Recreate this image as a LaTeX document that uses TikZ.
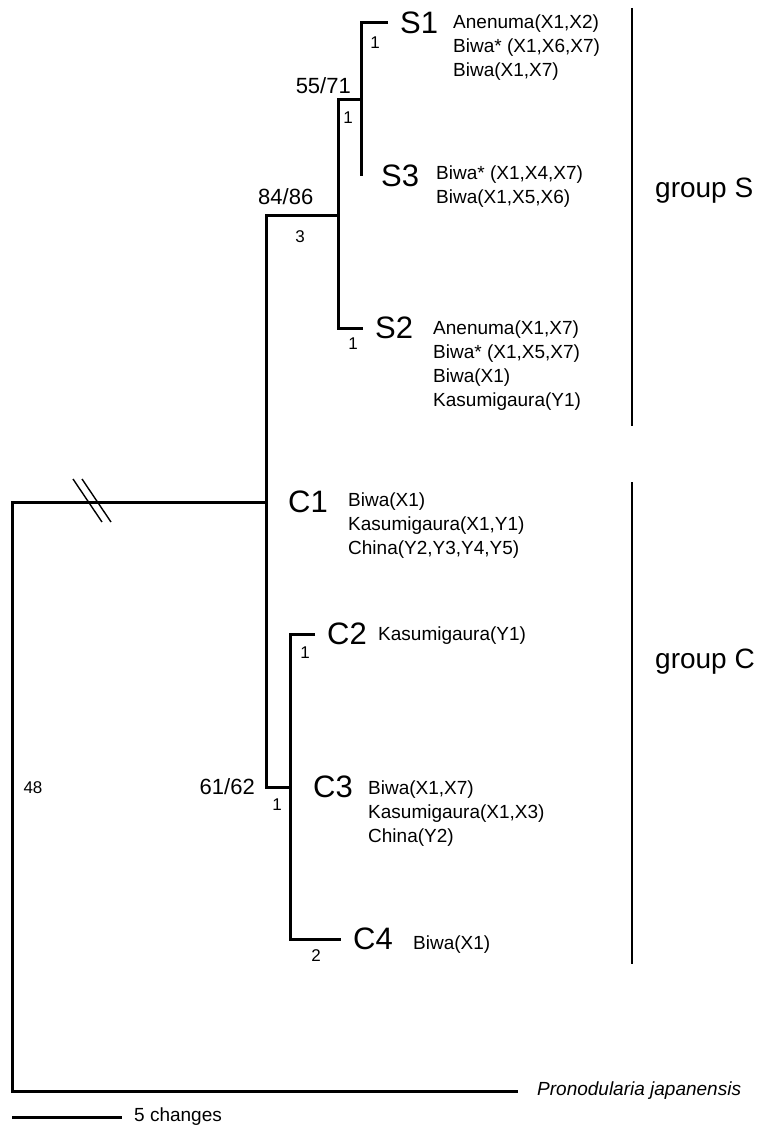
\documentclass[tikz,border=0pt]{standalone}
\usepackage{fontspec}
\setmainfont{Liberation Sans}
\usetikzlibrary{positioning}

\tikzset{
  br/.style={line width=3pt},
  grpbar/.style={line width=2pt},
  hashmark/.style={line width=1.4pt},
  tip/.style={font=\fontsize{31}{31}\selectfont, anchor=west, inner xsep=12pt, inner ysep=0pt},
  info/.style={font=\fontsize{19}{24}\selectfont, align=left, anchor=north west, inner sep=0pt},
  supp/.style={font=\fontsize{22}{22}\selectfont, inner sep=0pt},
  chg/.style={font=\fontsize{17}{17}\selectfont, inner sep=0pt},
  grp/.style={font=\fontsize{28}{28}\selectfont, anchor=west, inner sep=0pt}
}

\begin{document}
\begin{tikzpicture}[x=1pt,y=-1pt]
\useasboundingbox (0,0) rectangle (770,1129);

% branch points
\coordinate (root) at (12,502);
\coordinate (rootB) at (12,1091);
\coordinate (a) at (266,502);
\coordinate (aS) at (266,215);
\coordinate (aC) at (266,787);
\coordinate (s) at (338,215);
\coordinate (sT) at (338,100);
\coordinate (sB) at (338,328);
\coordinate (t) at (361,100);
\coordinate (tT) at (361,23);
\coordinate (tB) at (361,176);
\coordinate (c) at (290,787);
\coordinate (cT) at (290,634);
\coordinate (cB) at (290,939);

% tips
\node[tip] (S1) at (388,23) {S1};
\node[tip, right=8pt of tB] (S3) {S3};
\node[tip] (S2) at (363,328) {S2};
\node[tip, right=10pt of a] (C1) {C1};
\node[tip] (C2) at (315,634) {C2};
\node[tip, right=11pt of c] (C3) {C3};
\node[tip] (C4) at (341,939) {C4};
\node[tip, inner xsep=19pt, font=\fontsize{19}{19}\selectfont\itshape] (Pj) at (518,1091) {Pronodularia japanensis};

% tree
\draw[br] (a) -- (root) -- (rootB) -- (Pj.west);
\draw[br] (s) -- (aS) -- (aC) -- (c);
\draw[br] (t) -- (sT) -- (sB) -- (S2.west);
\draw[br] (S1.west) -- (tT) -- (tB);
\draw[br] (C2.west) -- (cT) -- (cB) -- (C4.west);

% break on the outgroup branch
\draw[hashmark] (73,479) -- (102,522);
\draw[hashmark] (82,479) -- (111,522);

% localities
\node[info] (iS1) at (453,15) {Anenuma(X1,X2)\\Biwa* (X1,X6,X7)\\Biwa(X1,X7)};
\node[info] (iS3) at (436,166) {Biwa* (X1,X4,X7)\\Biwa(X1,X5,X6)};
\node[info] (iS2) at (433,321) {Anenuma(X1,X7)\\Biwa* (X1,X5,X7)\\Biwa(X1)\\Kasumigaura(Y1)};
\node[info] (iC1) at (348,493) {Biwa(X1)\\Kasumigaura(X1,Y1)\\China(Y2,Y3,Y4,Y5)};
\node[info] (iC2) at (378,627) {Kasumigaura(Y1)};
\node[info] (iC3) at (368,781) {Biwa(X1,X7)\\Kasumigaura(X1,X3)\\China(Y2)};
\node[info] (iC4) at (413,936) {Biwa(X1)};

% bootstrap values
\node[supp, above left=6pt and 10pt of t] (b1) {55/71};
\node[supp, above right=10pt and -8pt of aS] (b2) {84/86};
\node[supp, left=11pt of aC] (b3) {61/62};

% numbers of changes
\node[chg] (n1) at (375,43) {1};
\node[chg] (n2) at (348,118) {1};
\node[chg] (n3) at (300,237) {3};
\node[chg] (n4) at (353,344) {1};
\node[chg] (n5) at (305,653) {1};
\node[chg] (n6) at (277,805) {1};
\node[chg] (n7) at (316,956) {2};
\node[chg] (n8) at (33,788) {48};

% groups
\coordinate (gSt) at (632,8);
\coordinate (gSb) at (632,426);
\coordinate (gCt) at (632,482);
\coordinate (gCb) at (632,964);
\draw[grpbar] (gSt) -- (gSb);
\draw[grpbar] (gCt) -- (gCb);
\node[grp] (gS) at (655,191) {group S};
\node[grp] (gC) at (655,662) {group C};

% scale bar
\coordinate (sbL) at (12,1117);
\coordinate (sbR) at (122,1117);
\draw[br] (sbL) -- (sbR);
\node[font=\fontsize{19}{19}\selectfont, inner sep=0pt, right=12pt of sbR] (sbT) {5 changes};

\end{tikzpicture}
\end{document}
